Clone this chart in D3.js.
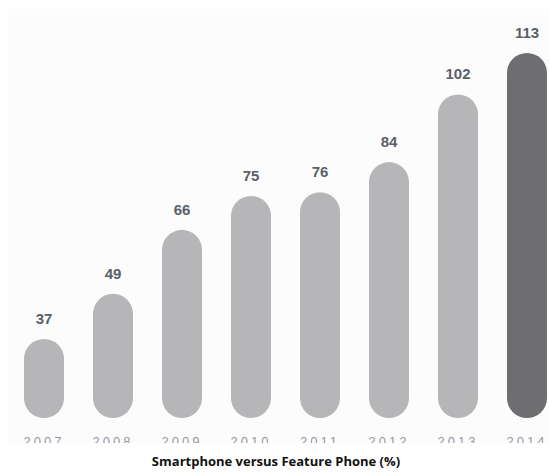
<!DOCTYPE html>
<html>
<head>
<meta charset="utf-8">
<script src="https://cdn.jsdelivr.net/npm/d3@7"></script>
<style>
html,body{margin:0;padding:0;background:#ffffff;}
svg{display:block;}
</style>
</head>
<body>
<svg id="chart" width="549" height="472"></svg>
<script>
const years = ["2007","2008","2009","2010","2011","2012","2013","2014"];
const values = [37, 49, 66, 75, 76, 84, 102, 113];
const highlightYear = "2014";
const caption = "Smartphone versus Feature Phone (%)";

const svg = d3.select("#chart");

// image panel
const panel = {x: 8, y: 9, w: 541, h: 434};
svg.append("defs").append("clipPath").attr("id","clipPanel")
  .append("rect").attr("x", panel.x).attr("y", panel.y).attr("width", panel.w).attr("height", panel.h);

const g = svg.append("g").attr("clip-path","url(#clipPanel)");
g.append("rect").attr("x", panel.x).attr("y", panel.y).attr("width", panel.w).attr("height", panel.h)
  .attr("fill", "#fcfcfc");

const x = d3.scaleBand().domain(years).range([24, 547]).paddingInner(0.42).paddingOuter(0);
const bottom = 418;
const y = d3.scaleLinear().domain([16, 113]).range([bottom, 53]);

const data = years.map((yr, i) => ({year: yr, value: values[i]}));

g.selectAll("rect.bar").data(data).join("rect")
  .attr("class","bar")
  .attr("x", d => x(d.year))
  .attr("y", d => y(d.value))
  .attr("width", x.bandwidth())
  .attr("height", d => bottom - y(d.value))
  .attr("rx", x.bandwidth()/2)
  .attr("ry", x.bandwidth()/2)
  .attr("fill", d => d.year === highlightYear ? "#6e6d70" : "#b6b6b8");

g.selectAll("text.val").data(data).join("text")
  .attr("class","val")
  .attr("x", d => x(d.year) + x.bandwidth()/2)
  .attr("y", d => y(d.value) - 15)
  .attr("text-anchor","middle")
  .attr("font-family","'Liberation Sans', Arial, sans-serif")
  .attr("font-weight","bold")
  .attr("font-size", 15)
  .attr("fill","#5b6068")
  .text(d => d.value);

// x axis tick labels (clipped at panel bottom as in the source image)
const axis = d3.axisBottom(x).tickSize(0).tickPadding(0);
const ax = g.append("g").attr("transform", `translate(0, ${437})`).call(axis);
ax.select(".domain").remove();
ax.selectAll("text")
  .attr("dy", "0.72em")
  .attr("font-family","'Liberation Sans', Arial, sans-serif")
  .attr("font-size", 13)
  .attr("letter-spacing", "3px")
  .attr("fill","#8f9aa6");

svg.append("text")
  .attr("x", 276)
  .attr("y", 466)
  .attr("text-anchor","middle")
  .attr("font-family","'Open Sans', 'Liberation Sans', sans-serif")
  .attr("font-weight","bold")
  .attr("font-size", 13)
  .attr("fill","#111")
  .text(caption);
</script>
</body>
</html>
